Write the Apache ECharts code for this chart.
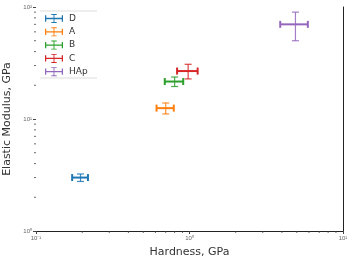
<!DOCTYPE html>
<html>
<head>
<meta charset="utf-8">
<script src="https://cdn.jsdelivr.net/npm/echarts@6/dist/echarts.min.js"></script>
<style>
  html, body { margin: 0; padding: 0; background: #fff; }
  #chart { width: 355px; height: 262px; }
</style>
</head>
<body>
<div id="chart"></div>
<script>
// samples, in legend order
const names = ['D', 'A', 'B', 'C', 'HAp'];
const colors = ['#1f77b4', '#ff7f0e', '#2ca02c', '#d62728', '#9467bd'];
const hardness = [0.195, 0.70, 0.80, 0.98, 4.9];      // GPa
const hardnessErr = [0.023, 0.09, 0.11, 0.15, 1.0];
const modulus = [3.0, 12.5, 21.6, 26.8, 70];          // GPa
const modulusErr = [0.23, 1.4, 2.1, 4.0, 20];

// minor tick values of the log axes
const xMinor = [0.2, 0.3, 0.4, 0.5, 0.6, 0.7, 0.8, 0.9, 2, 3, 4, 5, 6, 7, 8, 9];
const yMinor = [2, 3, 4, 5, 6, 7, 8, 9, 20, 30, 40, 50, 60, 70, 80, 90];

const sup = { '-1': '⁻¹', '0': '⁰', '1': '¹', '2': '²' };
function logLabel(v) {
  return '10' + sup[String(Math.round(Math.log10(v)))];
}

const iconPath = 'path://M0,4.3h20v1.4h-20z M0,1.5h1.4v7h-1.4z M18.6,1.5h1.4v7h-1.4z ' +
  'M9.5,0h1v10h-1z M7,0h6v1h-6z M7,9h6v1h-6z';

function renderErr(params, api) {
  const x = api.value(0), y = api.value(1), xe = api.value(2), ye = api.value(3);
  const c = api.visual('color');
  const l = api.coord([x - xe, y]), r = api.coord([x + xe, y]);
  const t = api.coord([x, y + ye]), b = api.coord([x, y - ye]);
  const cap = 3.5;
  const hs = { stroke: c, lineWidth: 2 };
  const vs = { stroke: c, lineWidth: 1.2, opacity: 0.85 };
  return {
    type: 'group',
    children: [
      { type: 'line', shape: { x1: l[0], y1: l[1], x2: r[0], y2: r[1] }, style: hs },
      { type: 'line', shape: { x1: l[0], y1: l[1] - cap, x2: l[0], y2: l[1] + cap }, style: hs },
      { type: 'line', shape: { x1: r[0], y1: r[1] - cap, x2: r[0], y2: r[1] + cap }, style: hs },
      { type: 'line', shape: { x1: t[0], y1: t[1], x2: b[0], y2: b[1] }, style: vs },
      { type: 'line', shape: { x1: t[0] - cap, y1: t[1], x2: t[0] + cap, y2: t[1] }, style: vs },
      { type: 'line', shape: { x1: b[0] - cap, y1: b[1], x2: b[0] + cap, y2: b[1] }, style: vs }
    ]
  };
}

const series = names.map(function (n, i) {
  return {
    name: n,
    type: 'custom',
    itemStyle: { color: colors[i] },
    renderItem: renderErr,
    encode: { x: 0, y: 1 },
    data: [[hardness[i], modulus[i], hardnessErr[i], modulusErr[i]]]
  };
});

// minor ticks drawn through the axes' own scales
series.push({
  type: 'custom',
  silent: true,
  clip: false,
  renderItem: function (params, api) {
    const p = api.coord([api.value(0), api.value(1)]);
    const isX = api.value(2) === 0;
    return {
      type: 'line',
      shape: isX ? { x1: p[0], y1: p[1], x2: p[0], y2: p[1] + 2 }
                 : { x1: p[0], y1: p[1], x2: p[0] - 2, y2: p[1] },
      style: { stroke: '#444', lineWidth: 0.8 }
    };
  },
  data: xMinor.map(function (v) { return [v, 1, 0]; })
    .concat(yMinor.map(function (v) { return [0.1, v, 1]; }))
});

const option = {
  animation: false,
  grid: { left: 36, right: 12, top: 7, bottom: 31, outerBoundsMode: 'none' },
  legend: {
    orient: 'vertical',
    left: 40,
    top: 9,
    itemWidth: 20,
    itemHeight: 9,
    itemGap: 4.3,
    icon: iconPath,
    textStyle: { fontSize: 9, color: '#333', fontFamily: 'DejaVu Sans' },
    data: names
  },
  graphic: [
    { type: 'line', shape: { x1: 40, y1: 11, x2: 97, y2: 11 }, style: { stroke: '#ddd', lineWidth: 1 } },
    { type: 'line', shape: { x1: 40, y1: 78, x2: 97, y2: 78 }, style: { stroke: '#ddd', lineWidth: 1 } }
  ],
  xAxis: [{
    type: 'log',
    logBase: 10,
    min: 0.1,
    max: 10,
    name: 'Hardness, GPa',
    nameLocation: 'middle',
    nameGap: 16,
    nameTextStyle: { fontSize: 11, color: '#333', fontFamily: 'DejaVu Sans' },
    axisLine: { show: true, lineStyle: { color: '#222', width: 1 } },
    axisTick: { show: true, length: 3, lineStyle: { color: '#444' } },
    axisLabel: { fontSize: 6, color: '#666', margin: 4, formatter: logLabel },
    splitLine: { show: false }
  }, {
    type: 'log',
    logBase: 10,
    min: 0.1,
    max: 10,
    position: 'top',
    axisLine: { show: false },
    axisTick: { show: false },
    axisLabel: { show: false },
    splitLine: { show: false }
  }],
  yAxis: [{
    type: 'log',
    logBase: 10,
    min: 1,
    max: 100,
    name: 'Elastic Modulus, GPa',
    nameLocation: 'middle',
    nameGap: 13,
    nameTextStyle: { fontSize: 11, color: '#333', fontFamily: 'DejaVu Sans' },
    axisLine: { show: false },
    axisTick: { show: true, length: 3, lineStyle: { color: '#444' } },
    axisLabel: { fontSize: 6, color: '#666', margin: 4, formatter: logLabel },
    splitLine: { show: false }
  }, {
    type: 'log',
    logBase: 10,
    min: 1,
    max: 100,
    position: 'right',
    axisLine: { show: true, lineStyle: { color: '#222', width: 1 } },
    axisTick: { show: false },
    axisLabel: { show: false },
    splitLine: { show: false }
  }],
  series: series
};

const chart = echarts.init(document.getElementById('chart'), null, { renderer: 'canvas' });
chart.setOption(option);
</script>
</body>
</html>
